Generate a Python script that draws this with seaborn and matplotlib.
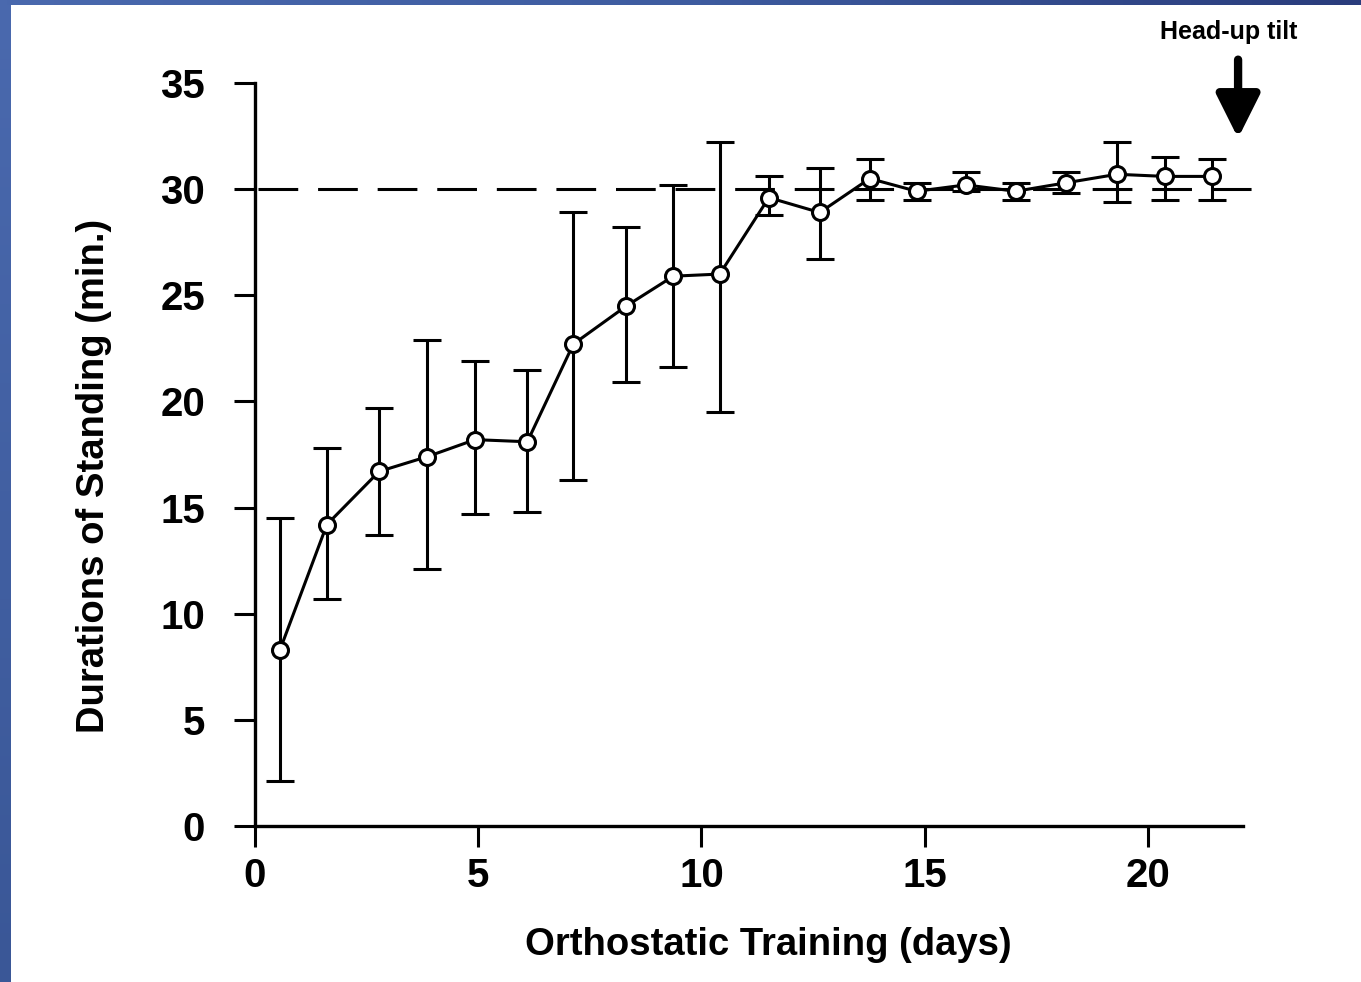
import numpy as np
import pandas as pd
import matplotlib
matplotlib.use("Agg")
import matplotlib.pyplot as plt
from matplotlib.colors import LinearSegmentedColormap
import seaborn as sns

# Mean standing duration per training day, with lower/upper error limits
days = [0.56, 1.61, 2.78, 3.86, 4.93, 6.10, 7.13, 8.32, 9.37, 10.41,
        11.51, 12.65, 13.77, 14.82, 15.92, 17.04, 18.17, 19.31, 20.38, 21.43]
mean_minutes = [8.3, 14.2, 16.7, 17.4, 18.2, 18.1, 22.7, 24.5, 25.9, 26.0,
                29.6, 28.9, 30.5, 29.9, 30.2, 29.9, 30.3, 30.7, 30.6, 30.6]
upper_minutes = [14.5, 17.8, 19.7, 22.9, 21.9, 21.5, 28.9, 28.2, 30.2, 32.2,
                 30.6, 31.0, 31.4, 30.3, 30.8, 30.3, 30.8, 32.2, 31.5, 31.4]
lower_minutes = [2.1, 10.7, 13.7, 12.1, 14.7, 14.8, 16.3, 20.9, 21.6, 19.5,
                 28.8, 26.7, 29.5, 29.5, 29.9, 29.5, 29.8, 29.4, 29.5, 29.5]

x_ticks = [0, 5, 10, 15, 20]
y_ticks = [0, 5, 10, 15, 20, 25, 30, 35]
target_minutes = 30
tilt_day = 22.02

df = pd.DataFrame({"day": days, "minutes": mean_minutes})

sns.set_theme(style="ticks")
plt.rcParams["font.family"] = ["Liberation Sans", "DejaVu Sans"]
plt.rcParams["font.weight"] = "bold"
plt.rcParams["text.color"] = "black"

W, H = 1361, 982
fig = plt.figure(figsize=(W / 100, H / 100), dpi=100)
fig.patch.set_facecolor("white")

# slide frame: blue strips along the left and top edges
left_cmap = LinearSegmentedColormap.from_list("lf", ["#4a69ae", "#3a5797"])
top_cmap = LinearSegmentedColormap.from_list("tf", ["#4a69ae", "#3e5ca0", "#2a3c7c"])
ax_l = fig.add_axes([0, 0, 11 / W, 1])
ax_l.imshow(np.linspace(0, 1, 100).reshape(-1, 1), cmap=left_cmap, aspect="auto")
ax_l.axis("off")
ax_t = fig.add_axes([0, 1 - 5 / H, 1, 5 / H])
ax_t.imshow(np.linspace(0, 1, 200).reshape(1, -1), cmap=top_cmap, aspect="auto")
ax_t.axis("off")

ax = fig.add_axes([255 / W, 1 - 826 / H, 988 / W, 743 / H])
ax.set_facecolor("white")

lw = 2.2
# reference level at 30 minutes
ax.plot([0.07, 22.5], [target_minutes, target_minutes], color="black", lw=lw,
        linestyle=(0, (13, 6.5)), zorder=1, clip_on=False)

yerr = np.array([np.array(mean_minutes) - np.array(lower_minutes),
                 np.array(upper_minutes) - np.array(mean_minutes)])
ax.errorbar(days, mean_minutes, yerr=yerr, fmt="none", ecolor="black",
            elinewidth=lw, capsize=10, capthick=lw, zorder=2, clip_on=False)

sns.lineplot(data=df, x="day", y="minutes", ax=ax, color="black", lw=lw,
             marker="o", markersize=11.5, markerfacecolor="white",
             markeredgecolor="black", markeredgewidth=2.2, zorder=3,
             clip_on=False)

ax.set_xlim(0, 22.13)
ax.set_ylim(0, 35)
ax.set_xticks(x_ticks)
ax.set_yticks(y_ticks)
ax.set_xlabel("")
ax.set_ylabel("")

for side in ["top", "right"]:
    ax.spines[side].set_visible(False)
for side in ["left", "bottom"]:
    ax.spines[side].set_linewidth(2.4)
    ax.spines[side].set_color("black")

ax.tick_params(axis="both", direction="out", length=15, width=2.2,
               colors="black", labelcolor="black", labelsize=29)
ax.tick_params(axis="y", pad=21)
ax.tick_params(axis="x", pad=7)
for lab in ax.get_xticklabels() + ax.get_yticklabels():
    lab.set_fontweight("bold")

fig.text(768 / W, 1 - 945 / H, "Orthostatic Training (days)", ha="center",
         va="center", fontsize=27.5, fontweight="bold", color="black")
fig.text(94 / W, 1 - 476 / H, "Durations of Standing (min.)", ha="center",
         va="center", rotation=90, fontsize=27.5, fontweight="bold",
         color="black")

# marker for the head-up tilt test
ax.annotate("", xy=(tilt_day, 32.4), xytext=(tilt_day, 36.1),
            xycoords="data", textcoords="data", annotation_clip=False,
            arrowprops=dict(arrowstyle="-|>,head_length=1.2,head_width=0.6",
                            lw=6, mutation_scale=22, color="black",
                            shrinkA=0, shrinkB=0))
fig.text(1229 / W, 1 - 32 / H, "Head-up tilt", ha="center", va="center",
         fontsize=18, fontweight="bold", color="black")

fig.savefig("out.png", dpi=100, facecolor="white")
